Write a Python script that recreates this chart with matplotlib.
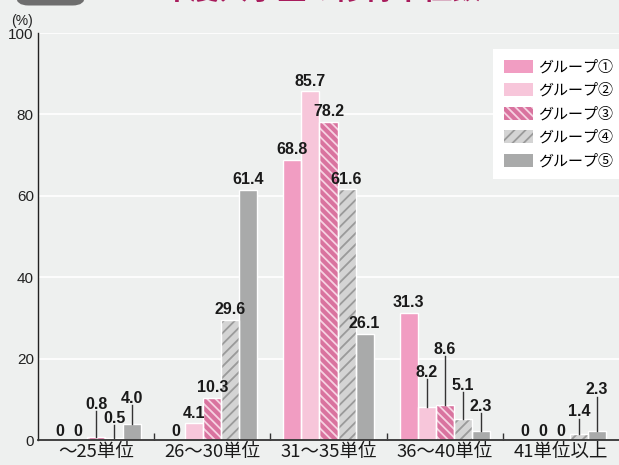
import matplotlib
matplotlib.use('Agg')
import matplotlib.pyplot as plt
from matplotlib.patches import Patch, FancyBboxPatch
from matplotlib.legend_handler import HandlerTuple
import numpy as np

# ---- data ----
categories = ['～25単位', '26～30単位', '31～35単位', '36～40単位', '41単位以上']
groups = ['グループ①', 'グループ②', 'グループ③', 'グループ④', 'グループ⑤']
g1 = [0, 0, 68.8, 31.3, 0]
g2 = [0, 4.1, 85.7, 8.2, 0]
g3 = [0.8, 10.3, 78.2, 8.6, 0]
g4 = [0.5, 29.6, 61.6, 5.1, 1.4]
g5 = [4.0, 61.4, 26.1, 2.3, 2.3]
yticks = [0, 20, 40, 60, 80, 100]
title = '2019年度入学生の修得単位数'

# ---- style ----
series = [g1, g2, g3, g4, g5]
colors = ['#f19dc2', '#f7c6da', '#d9739f', '#d4d4d4', '#a9aaaa']
hatches = [None, None, '\\\\\\\\', '///', None]
hatch_colors = [None, None, '#f6d3e2', '#9a9a9a', None]
# label offsets (above bar top) for labels with leader lines: (series, category) -> offset
leader = {(2, 0): 8.0, (3, 0): 4.9, (4, 0): 6.3,
          (1, 3): 8.5, (2, 3): 13.7, (3, 3): 8.4, (4, 3): 6.0,
          (3, 4): 5.5, (4, 4): 10.0}
BG = '#eef0ef'
NUMFONT = ['Liberation Sans Narrow', 'Liberation Sans', 'DejaVu Sans']
JPFONT = ['Noto Sans CJK JP', 'DejaVu Sans']

plt.rcParams['font.family'] = NUMFONT
plt.rcParams['hatch.linewidth'] = 1.3

W, H = 619, 465
fig = plt.figure(figsize=(W / 100, H / 100), dpi=100, facecolor=BG)
ax = fig.add_axes([38 / W, 25 / H, 1 - 38 / W, (440 - 33) / H])
ax.set_facecolor(BG)

x = np.arange(len(categories))
width = 0.155
for j, vals in enumerate(series):
    pos = x + (j - 2) * width
    ax.bar(pos, vals, width, color=colors[j], edgecolor='none', zorder=2)
    if hatches[j]:
        ax.bar(pos, vals, width, facecolor='none', edgecolor=hatch_colors[j],
               hatch=hatches[j], linewidth=0, zorder=3)
    ax.bar(pos, vals, width, facecolor='none', edgecolor='white', linewidth=1.0, zorder=4)
    for i, v in enumerate(vals):
        lab = '0' if v == 0 else f'{v:.1f}'
        if (j, i) in leader:
            ty = v + leader[(j, i)]
            ax.plot([pos[i], pos[i]], [v, ty - 1.7], color='#333333', lw=1.0, zorder=5)
        elif v == 0:
            ty = 2.1
        else:
            ty = v + 2.5
        ax.text(pos[i], ty, lab, ha='center', va='center', fontsize=11.5,
                fontweight='bold', color='#1a1a1a', zorder=6)

ax.set_xlim(-0.5, 4.5)
ax.set_ylim(0, 100)
ax.set_yticks(yticks)
ax.set_yticklabels([str(t) for t in yticks], fontsize=11, color='#222222')
ax.tick_params(axis='y', length=0, pad=3)
ax.yaxis.grid(True, color='white', lw=1.2, zorder=1)
ax.set_axisbelow(True)

ax.set_xticks(x)
ax.set_xticklabels(categories, fontsize=13.3, family=JPFONT, color='#1a1a1a')
ax.set_xticks([0.5, 1.5, 2.5, 3.5], minor=True)
ax.tick_params(axis='x', which='major', length=0, pad=2)
ax.tick_params(axis='x', which='minor', direction='in', length=5, width=1, color='#333333')

for s in ['top', 'right']:
    ax.spines[s].set_visible(False)
ax.spines['left'].set_color('#222222')
ax.spines['left'].set_linewidth(1.0)
ax.spines['bottom'].set_color('#333333')
ax.spines['bottom'].set_linewidth(1.3)
ax.spines['left'].set_zorder(7)
ax.spines['bottom'].set_zorder(7)

fig.text(22 / W, 1 - 21 / H, '(%)', ha='center', va='center', fontsize=10, color='#222222')

# legend
handles = []
for j in range(5):
    base = Patch(facecolor=colors[j], edgecolor='none')
    if hatches[j]:
        handles.append((base, Patch(facecolor='none', edgecolor=hatch_colors[j],
                                    hatch=hatches[j], linewidth=0)))
    else:
        handles.append(base)
leg = ax.legend(handles, groups, handler_map={tuple: HandlerTuple(ndivide=1, pad=0)},
                loc='upper left', bbox_to_anchor=(493 / W, 1 - 49 / H),
                bbox_transform=fig.transFigure, borderaxespad=0,
                prop={'family': JPFONT, 'size': 10.8},
                frameon=True, fancybox=False, facecolor='white', edgecolor='none',
                framealpha=1, borderpad=0.72, handlelength=1.95, handleheight=0.93,
                handletextpad=0.35, labelspacing=0.6)
leg.set_zorder(10)

# title strip (mostly cropped at top)
badge = FancyBboxPatch((16 / W, 1 - 5.5 / H), 69 / W, 30 / H,
                       boxstyle='round,pad=0,rounding_size=0.02',
                       transform=fig.transFigure, facecolor='#6e6e6e', edgecolor='none')
fig.patches.append(badge)
fig.text(93 / W, 1 + 1.0 / H, title, ha='left', va='baseline', fontsize=21,
         fontweight='bold', color='#a81c5c', family=JPFONT)

fig.savefig('out.png', dpi=100, facecolor=BG)
